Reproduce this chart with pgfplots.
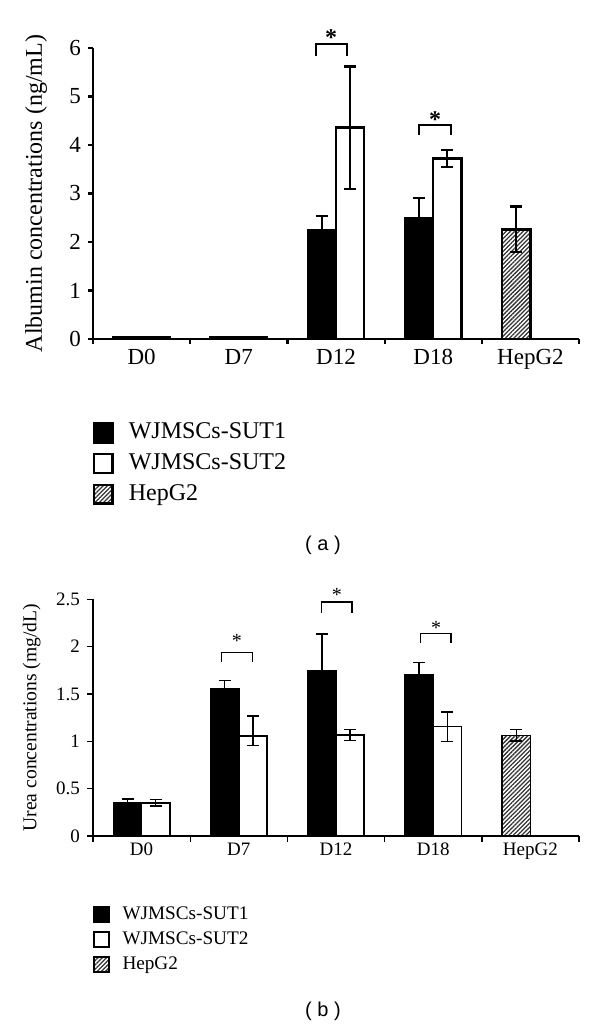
\documentclass[border=0pt]{standalone}
\usepackage{fontspec}
\setmainfont{Liberation Serif}
\newfontfamily\arialf{Liberation Sans}
\usepackage{pgfplots}
\pgfplotsset{compat=1.18}
\usetikzlibrary{patterns.meta}

\pgfplotsset{
  hatchbar/.style={pattern={Lines[angle=45,distance=1.5pt,line width=0.65pt]}, pattern color=black!80},
  legbig/.style={legend image code/.code={\draw[##1] (0pt,-4.7pt) rectangle (9.2pt,4.7pt);}},
  legsmall/.style={legend image code/.code={\draw[##1] (0pt,-3.75pt) rectangle (7.5pt,3.75pt);}},
  panel/.style={
    scale only axis, width=243pt,
    xmin=0, xmax=5, ymin=0,
    axis x line*=bottom, axis y line*=left,
    ybar, bar width=0.29,
    xtick={0,...,5}, xticklabels={},
    extra x ticks={0.5,1.5,2.5,3.5,4.5},
    extra x tick labels={D0,D7,D12,D18,HepG2},
    extra x tick style={major tick length=0pt},
    tick align=outside,
    /pgf/number format/assume math mode=true,
    clip=false, legend cell align=left,
  },
}

\begin{document}
\begin{tikzpicture}
\useasboundingbox (0,0) rectangle (300pt,513pt);

% (a) albumin
\begin{axis}[panel,
  at={(46.5pt,343.5pt)}, anchor=south west, height=145.5pt,
  ymax=6, ytick={0,...,6},
  axis line style={line width=1.1pt},
  major tick length=2.5pt,
  tick style={line width=1.1pt, black},
  ticklabel style={font=\fontsize{11.5}{13}\selectfont},
  xticklabel style={yshift=-1.5pt},
  ylabel={Albumin concentrations (ng/mL)},
  ylabel style={font=\fontsize{12}{14}\selectfont, at={(axis description cs:-0.117,0.5)}, anchor=center},
  legend style={at={(axis description cs:0,-0.285)}, anchor=north west, draw=none,
    inner sep=0pt, outer sep=0pt, row sep=4.3pt, font=\fontsize{12}{14}\selectfont,
    nodes={inner sep=0pt, text height=8.5pt, text depth=2.5pt},
    /tikz/every odd column/.append style={column sep=7.5pt}},
]
\addplot[legbig, fill=black, draw=black, line width=1.2pt, bar shift=-0.145,
  error bars/.cd, y dir=both, y explicit, error bar style={black, line width=1.1pt},
  error mark options={rotate=90, mark size=3pt, line width=1.1pt}]
  coordinates {(0.5,0.03) +- (0,0.01) (1.5,0.03) +- (0,0.01) (2.5,2.25) +- (0,0.29) (3.5,2.50) +- (0,0.41)};
\addlegendentry{WJMSCs-SUT1}
\addplot[legbig, fill=white, draw=black, line width=1.2pt, bar shift=0.145,
  error bars/.cd, y dir=both, y explicit, error bar style={black, line width=1.1pt},
  error mark options={rotate=90, mark size=3pt, line width=1.1pt}]
  coordinates {(0.5,0.03) +- (0,0.01) (1.5,0.03) +- (0,0.01) (2.5,4.36) +- (0,1.26) (3.5,3.72) +- (0,0.18)};
\addlegendentry{WJMSCs-SUT2}
\addplot[legbig, hatchbar, draw=black, line width=1.2pt, bar shift=-0.145,
  error bars/.cd, y dir=both, y explicit, error bar style={black, line width=1.1pt},
  error mark options={rotate=90, mark size=3pt, line width=1.1pt}]
  coordinates {(4.5,2.26) +- (0,0.47)};
\addlegendentry{HepG2}
% significance brackets
\draw[line width=1.1pt] (axis cs:2.291,5.84) -- (axis cs:2.291,6.08) -- (axis cs:2.616,6.08) -- (axis cs:2.616,5.84);
\node[anchor=north, inner sep=0pt, font=\fontsize{12}{12}\selectfont\bfseries] at (axis cs:2.45,6.39) {*};
\draw[line width=1.1pt] (axis cs:3.354,4.21) -- (axis cs:3.354,4.42) -- (axis cs:3.68,4.42) -- (axis cs:3.68,4.21);
\node[anchor=north, inner sep=0pt, font=\fontsize{12}{12}\selectfont\bfseries] at (axis cs:3.52,4.70) {*};
\end{axis}

% (b) urea
\begin{axis}[panel,
  at={(46.5pt,95pt)}, anchor=south west, height=118.35pt,
  ymax=2.5, ytick={0,0.5,...,2.5},
  axis line style={line width=0.7pt},
  major tick length=3pt,
  tick style={line width=0.7pt, black},
  ticklabel style={font=\fontsize{9.5}{11}\selectfont},
  ylabel={Urea concentrations (mg/dL)},
  ylabel style={font=\fontsize{9.8}{11}\selectfont, at={(axis description cs:-0.126,0.5)}, anchor=center},
  legend style={at={(axis description cs:0,-0.293)}, anchor=north west, draw=none,
    inner sep=0pt, outer sep=0pt, row sep=3.5pt, font=\fontsize{9.6}{11}\selectfont,
    nodes={inner sep=0pt, text height=7pt, text depth=2pt},
    /tikz/every odd column/.append style={column sep=6.5pt}},
]
\addplot[legsmall, fill=black, draw=black, line width=0.75pt, bar shift=-0.145,
  error bars/.cd, y dir=both, y explicit, error bar style={black, line width=0.7pt},
  error mark options={rotate=90, mark size=3pt, line width=0.7pt}]
  coordinates {(0.5,0.35) +- (0,0.04) (1.5,1.56) +- (0,0.08) (2.5,1.745) +- (0,0.39) (3.5,1.70) +- (0,0.13)};
\addlegendentry{WJMSCs-SUT1}
\addplot[legsmall, fill=white, draw=black, line width=0.75pt, bar shift=0.145,
  error bars/.cd, y dir=both, y explicit, error bar style={black, line width=0.7pt},
  error mark options={rotate=90, mark size=3pt, line width=0.7pt}]
  coordinates {(0.5,0.35) +- (0,0.035) (1.5,1.056) += (0,0.21) -= (0,0.10) (2.5,1.067) +- (0,0.06) (3.5,1.155) +- (0,0.155)};
\addlegendentry{WJMSCs-SUT2}
\addplot[legsmall, hatchbar, draw=black, line width=0.75pt, bar shift=-0.145,
  error bars/.cd, y dir=both, y explicit, error bar style={black, line width=0.7pt},
  error mark options={rotate=90, mark size=3pt, line width=0.7pt}]
  coordinates {(4.5,1.063) +- (0,0.06)};
\addlegendentry{HepG2}
\draw[line width=0.7pt] (axis cs:1.324,1.84) -- (axis cs:1.324,1.94) -- (axis cs:1.639,1.94) -- (axis cs:1.639,1.84);
\node[anchor=north, inner sep=0pt, font=\fontsize{10}{10}\selectfont] at (axis cs:1.48,2.13) {*};
\draw[line width=0.7pt] (axis cs:2.353,2.36) -- (axis cs:2.353,2.47) -- (axis cs:2.665,2.47) -- (axis cs:2.665,2.36);
\node[anchor=north, inner sep=0pt, font=\fontsize{10}{10}\selectfont] at (axis cs:2.51,2.62) {*};
\draw[line width=0.7pt] (axis cs:3.371,2.035) -- (axis cs:3.371,2.14) -- (axis cs:3.683,2.14) -- (axis cs:3.683,2.035);
\node[anchor=north, inner sep=0pt, font=\fontsize{10}{10}\selectfont] at (axis cs:3.53,2.27) {*};
\end{axis}

\node[font=\arialf\fontsize{10}{12}\selectfont] at (161.5pt,240.5pt) {( a )};
\node[font=\arialf\fontsize{10}{12}\selectfont] at (161.5pt,7.5pt) {( b )};
\end{tikzpicture}
\end{document}
